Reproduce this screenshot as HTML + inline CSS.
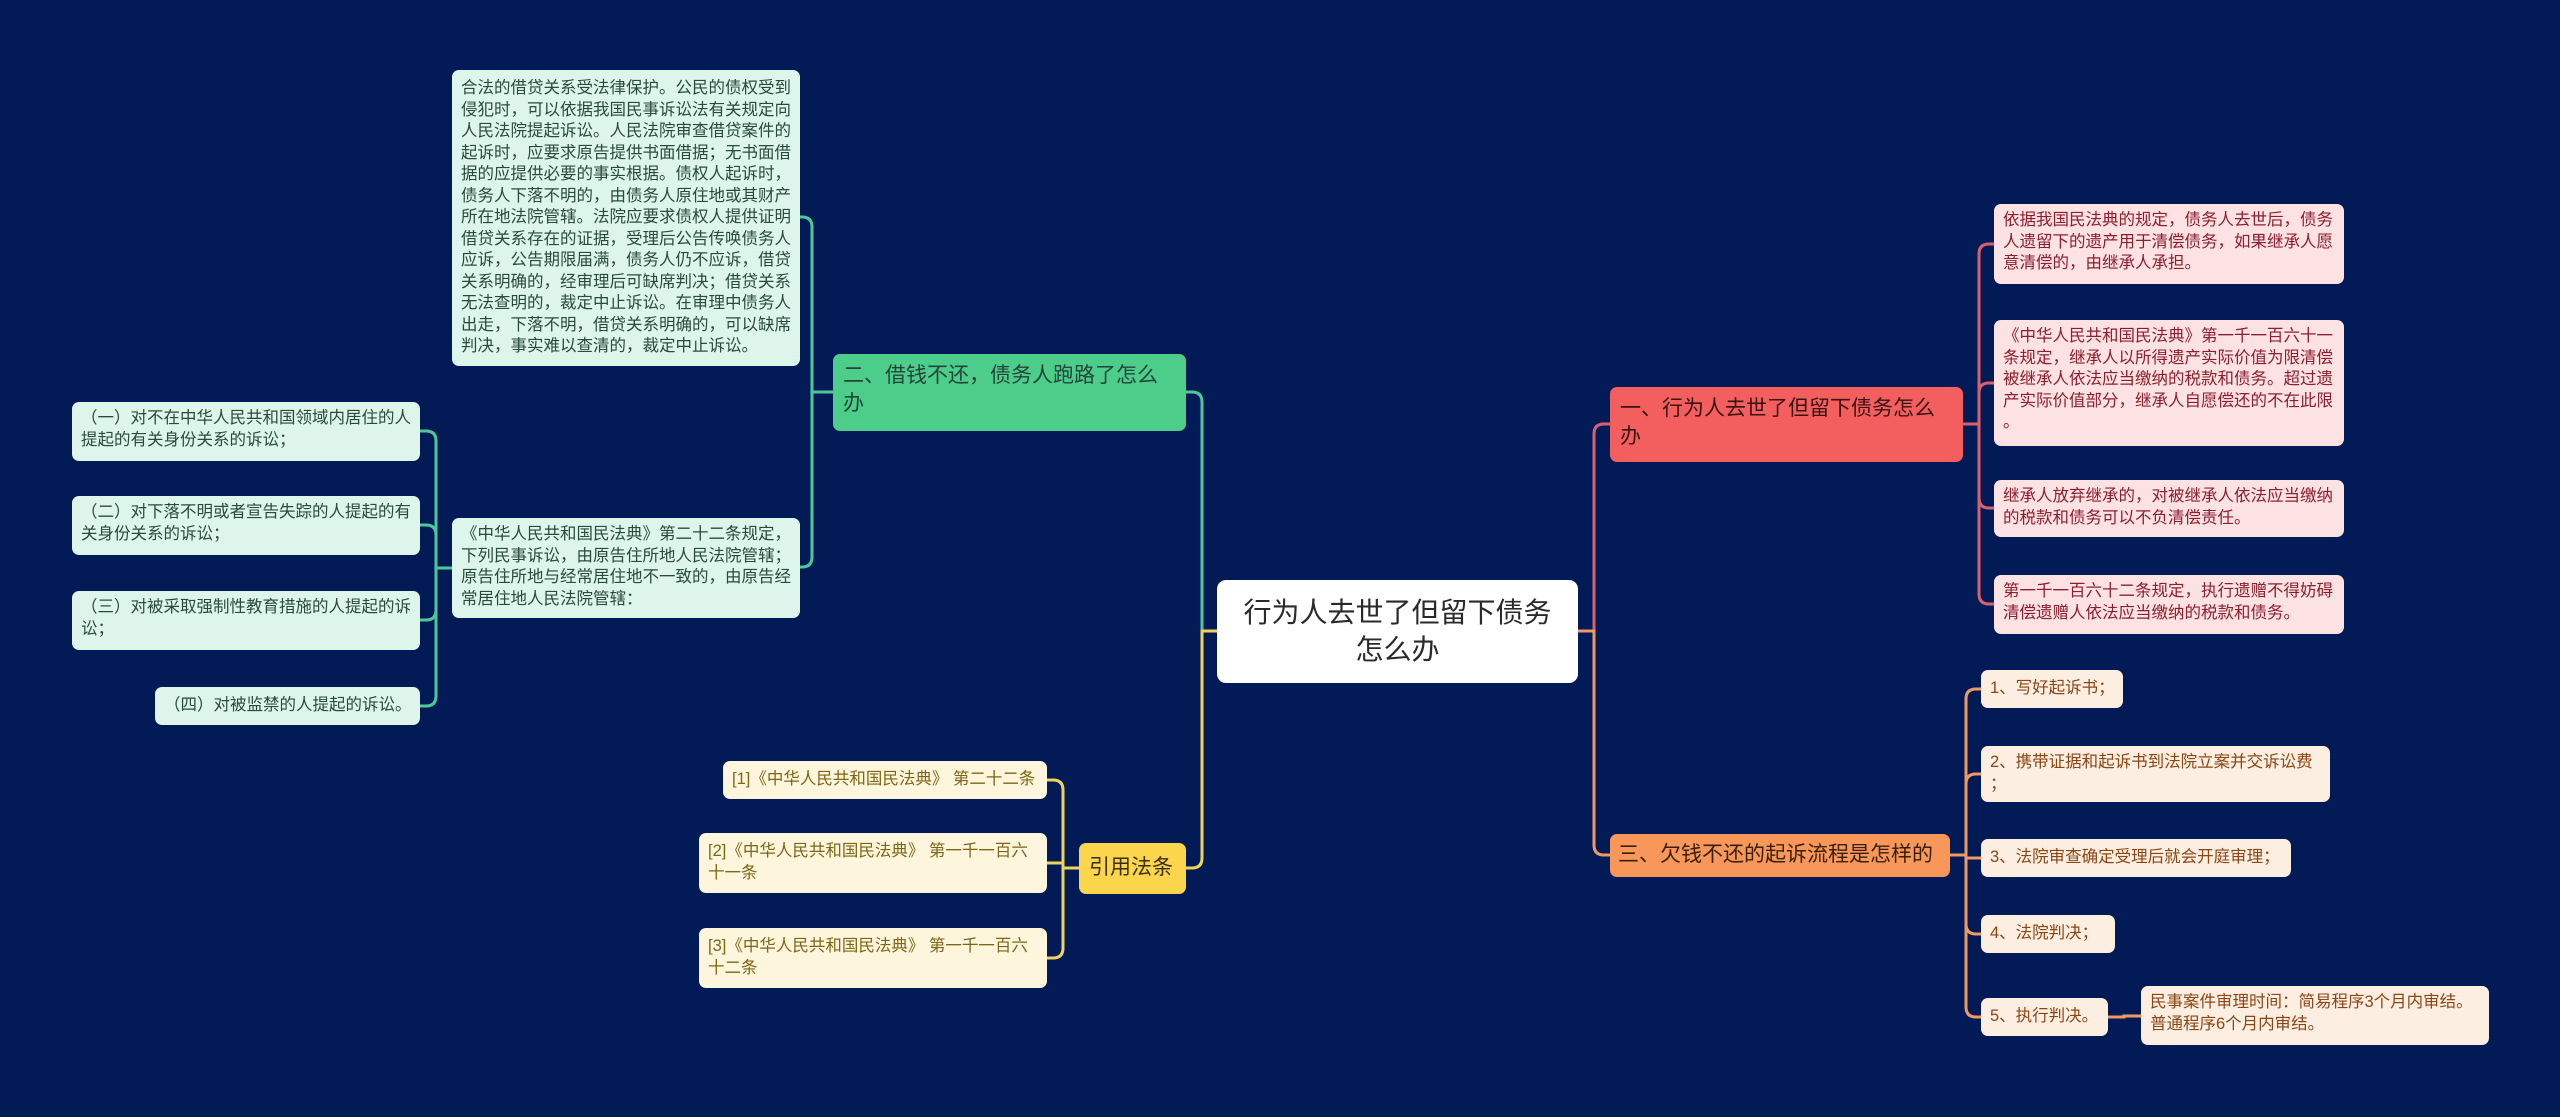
<!DOCTYPE html>
<html><head><meta charset="utf-8">
<style>
html,body{margin:0;padding:0;}
body{width:2560px;height:1117px;background:#021b56;position:relative;overflow:hidden;font-family:"Liberation Sans","Noto Sans CJK SC",sans-serif;}
.n{position:absolute;box-sizing:border-box;border-radius:7px;padding:6px 9px;font-size:16.5px;line-height:21.5px;word-break:break-all;}
.nw{white-space:nowrap;}
.g{background:#ddf5ea;color:#2a4a3c;}
.p{background:#fde2e3;color:#8c1f2c;}
.o{background:#fdeee2;color:#8a4614;}
.y{background:#fdf6dc;color:#7d6616;}
svg{position:absolute;left:0;top:0;}
</style></head><body>
<svg id="s" width="2560" height="1117"></svg>

<div class="n" style="left:1217px;top:580px;width:361px;height:103px;background:#fff;color:#2a2a2a;font-size:28px;line-height:37px;text-align:center;padding:14px 20px;border-radius:9px;">行为人去世了但留下债务<br>怎么办</div>

<div class="n" style="left:833px;top:354px;width:353px;height:77px;background:#4ccd8a;color:#24443a;font-size:21px;line-height:28px;padding:8px 10px;">二、借钱不还，债务人跑路了怎么<br>办</div>

<div class="n g" style="left:452px;top:70px;width:348px;height:296px;padding:8px 9px;">合法的借贷关系受法律保护。公民的债权受到侵犯时，可以依据我国民事诉讼法有关规定向人民法院提起诉讼。人民法院审查借贷案件的起诉时，应要求原告提供书面借据；无书面借据的应提供必要的事实根据。债权人起诉时，债务人下落不明的，由债务人原住地或其财产所在地法院管辖。法院应要求债权人提供证明借贷关系存在的证据，受理后公告传唤债务人应诉，公告期限届满，债务人仍不应诉，借贷关系明确的，经审理后可缺席判决；借贷关系无法查明的，裁定中止诉讼。在审理中债务人出走，下落不明，借贷关系明确的，可以缺席判决，事实难以查清的，裁定中止诉讼。</div>

<div class="n g" style="left:452px;top:518px;width:348px;height:100px;">《中华人民共和国民法典》第二十二条规定，下列民事诉讼，由原告住所地人民法院管辖；原告住所地与经常居住地不一致的，由原告经常居住地人民法院管辖：</div>

<div class="n g" style="left:72px;top:402px;width:348px;height:59px;">（一）对不在中华人民共和国领域内居住的人提起的有关身份关系的诉讼；</div>
<div class="n g" style="left:72px;top:496px;width:348px;height:59px;">（二）对下落不明或者宣告失踪的人提起的有关身份关系的诉讼；</div>
<div class="n g" style="left:72px;top:591px;width:348px;height:59px;">（三）对被采取强制性教育措施的人提起的诉讼；</div>
<div class="n g nw" style="left:155px;top:687px;width:265px;height:38px;padding:8px 9px;">（四）对被监禁的人提起的诉讼。</div>

<div class="n nw" style="left:1079px;top:843px;width:107px;height:51px;background:#fbd54c;color:#3a3010;font-size:21px;line-height:28px;padding:11px 10px;">引用法条</div>
<div class="n y nw" style="left:723px;top:761px;width:324px;height:38px;padding:8px 9px;">[1]《中华人民共和国民法典》 第二十二条</div>
<div class="n y" style="left:699px;top:833px;width:348px;height:60px;padding:8px 9px;">[2]《中华人民共和国民法典》 第一千一百六<br>十一条</div>
<div class="n y" style="left:699px;top:928px;width:348px;height:60px;padding:8px 9px;">[3]《中华人民共和国民法典》 第一千一百六<br>十二条</div>

<div class="n" style="left:1610px;top:387px;width:353px;height:75px;background:#f25f5e;color:#3a1212;font-size:21px;line-height:28px;padding:8px 10px;">一、行为人去世了但留下债务怎么<br>办</div>
<div class="n p nw" style="left:1994px;top:204px;width:350px;height:80px;">依据我国民法典的规定，债务人去世后，债务<br>人遗留下的遗产用于清偿债务，如果继承人愿<br>意清偿的，由继承人承担。</div>
<div class="n p nw" style="left:1994px;top:320px;width:350px;height:126px;">《中华人民共和国民法典》第一千一百六十一<br>条规定，继承人以所得遗产实际价值为限清偿<br>被继承人依法应当缴纳的税款和债务。超过遗<br>产实际价值部分，继承人自愿偿还的不在此限<br>。</div>
<div class="n p nw" style="left:1994px;top:480px;width:350px;height:57px;">继承人放弃继承的，对被继承人依法应当缴纳<br>的税款和债务可以不负清偿责任。</div>
<div class="n p nw" style="left:1994px;top:575px;width:350px;height:59px;">第一千一百六十二条规定，执行遗赠不得妨碍<br>清偿遗赠人依法应当缴纳的税款和债务。</div>

<div class="n nw" style="left:1610px;top:834px;width:340px;height:43px;background:#f7975a;color:#3a200c;font-size:21px;line-height:28px;padding:7px 8px;">三、欠钱不还的起诉流程是怎样的</div>
<div class="n o nw" style="left:1981px;top:670px;width:142px;height:38px;padding:8px 9px;">1、写好起诉书；</div>
<div class="n o nw" style="left:1981px;top:746px;width:349px;height:56px;">2、携带证据和起诉书到法院立案并交诉讼费<br>；</div>
<div class="n o nw" style="left:1981px;top:839px;width:310px;height:38px;padding:8px 9px;">3、法院审查确定受理后就会开庭审理；</div>
<div class="n o nw" style="left:1981px;top:915px;width:134px;height:38px;padding:8px 9px;">4、法院判决；</div>
<div class="n o nw" style="left:1981px;top:998px;width:127px;height:38px;padding:8px 9px;">5、执行判决。</div>
<div class="n o nw" style="left:2141px;top:986px;width:348px;height:59px;">民事案件审理时间：简易程序3个月内审结。<br>普通程序6个月内审结。</div>

<script>
var s=document.getElementById('s'),out='';
function c(px,py,bx,cx,cy,col){
 var r=10,d='M'+px+','+py+' H'+bx;
 if(Math.abs(cy-py)<r+2){d+=' V'+cy+' H'+cx;}
 else{var dir=cy>py?1:-1,hs=cx>bx?1:-1;d+=' V'+(cy-dir*r)+' Q'+bx+','+cy+' '+(bx+hs*r)+','+cy+' H'+cx;}
 out+='<path d="'+d+'" fill="none" stroke="'+col+'" stroke-width="3"/>';
}
var G='#4cc99a',Y='#f1d35a',R='#d8606e',O='#ee9a62';
c(1217,631,1202,1186,392,G);
c(1217,631,1202,1186,868,Y);
c(1577,631,1594,1610,424,R);
c(1577,631,1594,1610,855,O);
c(833,392,812,800,217,G);c(833,392,812,800,567,G);
[431,525,620,706].forEach(function(y){c(452,568,436,420,y,G);});
[780,863,958].forEach(function(y){c(1079,868,1063,1047,y,Y);});
[244,383,508,604].forEach(function(y){c(1963,424,1979,1994,y,R);});
[689,774,858,934,1017].forEach(function(y){c(1950,855,1966,1981,y,O);});
c(2108,1017,2124,2141,1016,O);
s.innerHTML=out;
</script>
</body></html>
